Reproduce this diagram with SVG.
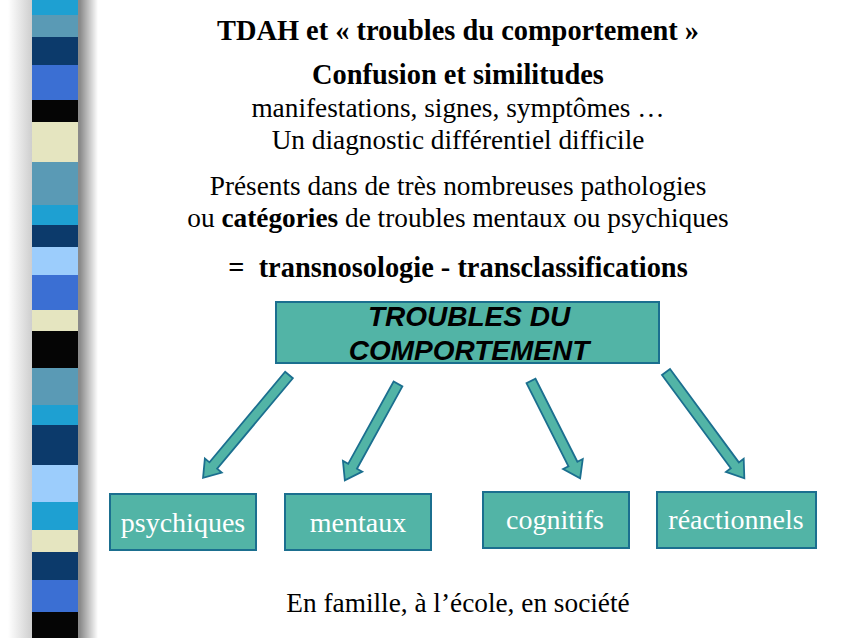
<svg xmlns="http://www.w3.org/2000/svg" width="850" height="638" viewBox="0 0 850 638">
<defs>
<linearGradient id="shadow" x1="0" y1="0" x2="1" y2="0">
<stop offset="0" stop-color="#ffffff"/>
<stop offset="0.3" stop-color="#c8c8c8"/>
<stop offset="0.55" stop-color="#8a8a8a"/>
<stop offset="0.8" stop-color="#8a8a8a"/>
<stop offset="1" stop-color="#ffffff"/>
</linearGradient>
</defs>
<style>
.box{fill:#52b4a6;stroke:#1b6f8f;stroke-width:2}
.txt{font-size:27.3px;fill:#000;text-anchor:middle}
.bold{font-weight:bold}
.big{font-size:28.4px}
.lbl{font-size:28px;fill:#fff;text-anchor:middle}
.main{font-weight:bold;font-style:italic;font-size:28px;fill:#000;text-anchor:middle}
.arr{fill:#52b4a6;stroke:#1b6f8f;stroke-width:1.8;stroke-linejoin:miter}
</style>
<rect width="850" height="638" fill="#fff"/>
<g id="stripes">
<rect x="8" y="0" width="90" height="638" fill="url(#shadow)"/>
<rect x="32" y="0" width="46" height="15" fill="#1ea0d2"/>
<rect x="32" y="15" width="46" height="22" fill="#5a9ab5"/>
<rect x="32" y="37" width="46" height="28" fill="#0c3a6b"/>
<rect x="32" y="65" width="46" height="35" fill="#3b6fd3"/>
<rect x="32" y="100" width="46" height="22" fill="#050505"/>
<rect x="32" y="122" width="46" height="40" fill="#e5e5c0"/>
<rect x="32" y="162" width="46" height="43" fill="#5a9ab5"/>
<rect x="32" y="205" width="46" height="20" fill="#1ea0d2"/>
<rect x="32" y="225" width="46" height="22" fill="#0c3a6b"/>
<rect x="32" y="247" width="46" height="28" fill="#9ccdfc"/>
<rect x="32" y="275" width="46" height="35" fill="#3b6fd3"/>
<rect x="32" y="310" width="46" height="21" fill="#e5e5c0"/>
<rect x="32" y="331" width="46" height="37" fill="#050505"/>
<rect x="32" y="368" width="46" height="37" fill="#5a9ab5"/>
<rect x="32" y="405" width="46" height="20" fill="#1ea0d2"/>
<rect x="32" y="425" width="46" height="40" fill="#0c3a6b"/>
<rect x="32" y="465" width="46" height="37" fill="#9ccdfc"/>
<rect x="32" y="502" width="46" height="28" fill="#1ea0d2"/>
<rect x="32" y="530" width="46" height="22" fill="#e5e5c0"/>
<rect x="32" y="552" width="46" height="28" fill="#0c3a6b"/>
<rect x="32" y="580" width="46" height="32" fill="#3b6fd3"/>
<rect x="32" y="612" width="46" height="26" fill="#050505"/>
</g>
<g id="texts" font-family="Liberation Serif, Times New Roman, serif">
<text class="txt bold big" x="458" y="40">TDAH et « troubles du comportement »</text>
<text class="txt bold big" x="458" y="84">Confusion et similitudes</text>
<text class="txt" x="458" y="117">manifestations, signes, symptômes …</text>
<text class="txt" x="458" y="149">Un diagnostic différentiel difficile</text>
<text class="txt" x="458" y="195">Présents dans de très nombreuses pathologies</text>
<text class="txt" x="458" y="227">ou <tspan class="bold">catégories</tspan> de troubles mentaux ou psychiques</text>
<text class="txt bold big" x="458" y="277" xml:space="preserve">=  transnosologie - transclassifications</text>
<text class="txt" x="458" y="612" font-size="28.8">En famille, à l’école, en société</text>
</g>
<g id="node-troubles" font-family="Liberation Sans, Arial, sans-serif">
<rect class="box" x="276" y="302" width="383" height="61"/>
<text class="main" x="469" y="326">TROUBLES DU</text>
<text class="main" x="469" y="360">COMPORTEMENT</text>
</g>
<g id="connectors">
<polygon class="arr" transform="translate(289,375) rotate(129.9)" points="0,-5 118,-5 118,-11 134,0 118,11 118,5 0,5"/>
<polygon class="arr" transform="translate(398,384) rotate(118.9)" points="0,-5 94,-5 94,-11 110,0 94,11 94,5 0,5"/>
<polygon class="arr" transform="translate(531,381) rotate(63.2)" points="0,-5 93,-5 93,-11 109,0 93,11 93,5 0,5"/>
<polygon class="arr" transform="translate(666,372) rotate(53.6)" points="0,-5 116,-5 116,-11 132,0 116,11 116,5 0,5"/>
</g>
<g font-family="Liberation Serif, Times New Roman, serif">
<g id="node-psychiques">
<rect class="box" x="110" y="494" width="146" height="56"/>
<text class="lbl" x="183" y="532">psychiques</text>
</g>
<g id="node-mentaux">
<rect class="box" x="285" y="494" width="146" height="56"/>
<text class="lbl" x="358" y="532">mentaux</text>
</g>
<g id="node-cognitifs">
<rect class="box" x="483" y="492" width="146" height="56"/>
<text class="lbl" x="555" y="529">cognitifs</text>
</g>
<g id="node-reactionnels">
<rect class="box" x="657" y="492" width="159" height="56"/>
<text class="lbl" x="736" y="529">réactionnels</text>
</g>
</g>
</svg>
